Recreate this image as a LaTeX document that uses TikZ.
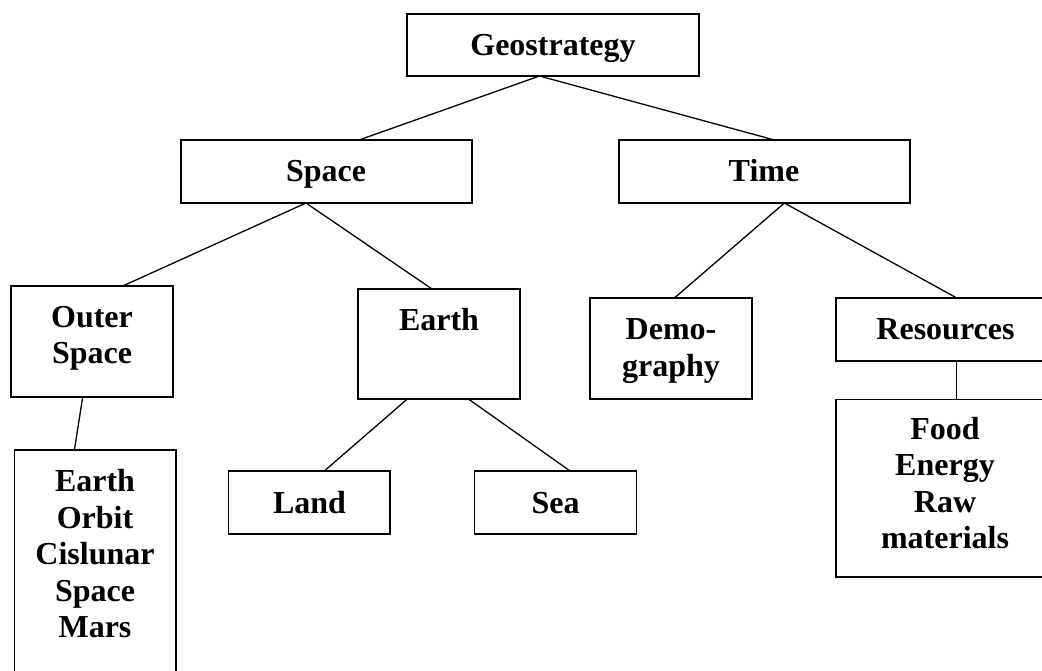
\documentclass[tikz,border=0pt]{standalone}
\usepackage{fontspec}
\setmainfont{Liberation Serif}
\usetikzlibrary{calc}
\tikzset{
  box/.style={draw, line width=1.7pt, rectangle, inner sep=0pt, outer sep=0pt},
  lbl/.style={font=\fontsize{32}{36.5}\selectfont\bfseries, align=center, anchor=base, inner sep=0pt},
  link/.style={line width=1.3pt},
}
\begin{document}
\begin{tikzpicture}[x=1pt,y=-1pt]
\clip (0,0) rectangle (1042,670);
\fill[white] (0,0) rectangle (1042,670);
% boxes
\node[box, minimum width=292pt, minimum height=62pt] (geo) at (553,45) {};
\node[box, minimum width=291pt, minimum height=63pt] (space) at (326.5,171.5) {};
\node[box, minimum width=291pt, minimum height=63pt] (time) at (764.5,171.5) {};
\node[box, minimum width=162pt, minimum height=111pt] (outer) at (92,341.5) {};
\node[box, minimum width=162pt, minimum height=110pt] (earth) at (439,344) {};
\node[box, minimum width=162pt, minimum height=101pt] (demo) at (671,348.5) {};
\node[box, minimum width=219pt, minimum height=63pt] (res) at (945.5,329.5) {};
\node[box, minimum width=219pt, minimum height=177.4pt] (food) at (945.5,488.3) {};
\node[box, minimum width=161.4pt, minimum height=250pt] (eo) at (95.3,575) {};
\node[box, minimum width=161.4pt, minimum height=63pt] (land) at (309.3,502.5) {};
\node[box, minimum width=162pt, minimum height=63pt] (sea) at (555.5,502.5) {};
% texts (anchor = baseline of the last line)
\node[lbl] (tgeo) at (553,55.5) {Geostrategy};
\node[lbl] (tspace) at (326,181.6) {Space};
\node[lbl] (ttime) at (764,181.6) {Time};
\node[lbl] (touter) at (92,363.8) {Outer\\Space};
\node[lbl] (tearth) at (439,330) {Earth};
\node[lbl] (tdemo) at (671,376.2) {Demo-\\graphy};
\node[lbl] (tres) at (945.5,339.7) {Resources};
\node[lbl] (tfood) at (945,548.5) {Food\\Energy\\Raw\\materials};
\node[lbl] (teo) at (95,637.5) {Earth\\Orbit\\Cislunar\\Space\\Mars};
\node[lbl] (tland) at (309.5,513) {Land};
\node[lbl] (tsea) at (555.5,513) {Sea};
% connectors
\draw[link] ($(geo.south west)+(132.5,0)$) -- ($(space.north west)+(178,0)$);
\draw[link] ($(geo.south west)+(132.5,0)$) -- ($(time.north west)+(155.4,0)$);
\draw[link] ($(space.south west)+(125,0)$) -- ($(outer.north west)+(111.7,0)$);
\draw[link] ($(space.south west)+(125,0)$) -- ($(earth.north west)+(74,0)$);
\draw[link] ($(time.south west)+(165.4,0)$) -- ($(demo.north west)+(84.4,0)$);
\draw[link] ($(time.south west)+(165.4,0)$) -- ($(res.north west)+(120.8,0)$);
\draw[link] ($(res.south west)+(120.8,0)$) -- ($(food.north west)+(120.8,0)$);
\draw[link] ($(outer.south west)+(71.7,0)$) -- ($(eo.north west)+(59.8,0)$);
\draw[link] ($(earth.south west)+(49.3,0)$) -- ($(land.north west)+(95.7,0)$);
\draw[link] ($(earth.south west)+(110.4,0)$) -- ($(sea.north west)+(95.6,0)$);
\end{tikzpicture}
\end{document}
